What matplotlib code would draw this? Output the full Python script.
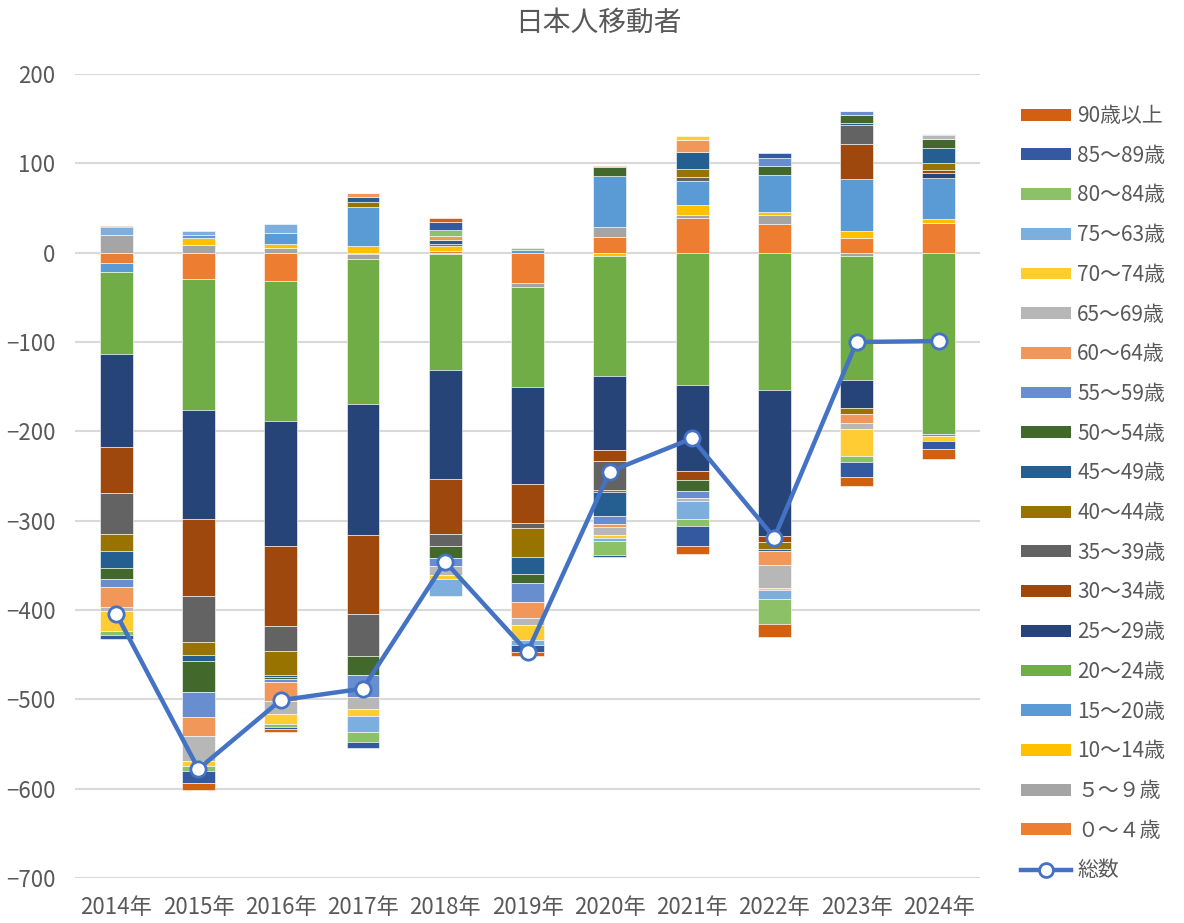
import matplotlib
matplotlib.use("Agg")
import matplotlib.pyplot as plt
import numpy as np
from matplotlib.patches import Patch
from matplotlib.lines import Line2D

plt.rcParams['font.family'] = ['Noto Sans CJK JP', 'DejaVu Sans']

years = ["2014年", "2015年", "2016年", "2017年", "2018年", "2019年",
         "2020年", "2021年", "2022年", "2023年", "2024年"]

labels = ["０～４歳", "５～９歳", "10～14歳", "15～20歳", "20～24歳", "25～29歳",
          "30～34歳", "35～39歳", "40～44歳", "45～49歳", "50～54歳", "55～59歳",
          "60～64歳", "65～69歳", "70～74歳", "75～63歳", "80～84歳", "85～89歳",
          "90歳以上"]

colors = ["#ED7D31", "#A5A5A5", "#FFC000", "#5B9BD5", "#70AD47", "#264478",
          "#9E480E", "#636363", "#997300", "#255E91", "#43682B", "#698ED0",
          "#F1975A", "#B7B7B7", "#FFCD33", "#7CAFDD", "#8CC168", "#335AA1",
          "#D26012"]

age_0_4   = [-12, -29, -32, -1, 1.5, -34, 18, 39, 31.7, 16.8, 32.8]
age_5_9   = [20, 9, 5, -6, -2, -4, 10.4, 3.4, 10.8, -3.7, 0]
age_10_14 = [0, 7, 4.5, 7, 5.6, 0, -4, 10.8, 2.6, 7.5, 4.9]
age_15_20 = [-10, 4, 12, 44, 0, 3, 57.5, 27, 41.8, 57.8, 46.3]
age_20_24 = [-91, -147, -156, -162, -129.5, -112, -134, -148.5, -154, -139, -203]
age_25_29 = [-104, -122, -140, -147, -122, -109, -83, -96, -163, -31.7, 4.9]
age_30_34 = [-52, -86, -90, -88, -61.6, -43.7, -12.7, -10.4, -7, 40, 3.4]
age_35_39 = [-46, -51.5, -28, -47.4, -13, -5, -32, 4.9, 0, 20.9, 0]
age_40_44 = [-19.5, -15, -27, 6, 2.5, -33, -2.6, 8.2, -8.2, -6.3, 7.8]
age_45_49 = [-18, -7, -1.5, 5.6, 4.2, -19.4, -27, 19.8, -2.2, 1.9, 16.8]
age_50_54 = [-13, -34, -2.6, -21, -14, -9.3, 10, -12, 10.4, 9, 10.8]
age_55_59 = [-9, -28, -3.7, -24.6, -8.6, -21.6, -8, -8.2, 9, 5.2, -2]
age_60_64 = [-22, -22, -21, 4, 5.2, -17.5, -3.7, 13, -15.3, -10.4, 0]
age_65_69 = [-5, -27, -15, -13.4, -10, -7.8, -8.6, -3, -25.7, -6.3, 3.7]
age_70_74 = [-22, -6, -10.4, -8.2, -5, -17.5, -3.7, 4.5, -2.2, -29.8, -5.5]
age_75_79 = [9, 4, 11, -18, -18.7, -5.6, -3.7, -19.7, -10.4, 0, 1.9]
age_80_84 = [-4.5, -6, -3.4, -11.2, 6, 2, -15, -8.2, -27.6, -7.5, 0]
age_85_89 = [-4, -13, -3, -6.3, 9, -7.5, -2.6, -22.4, 4.9, -16, -9]
age_90    = [1, -7.5, -2.6, 0, 4.5, -4.8, 1.5, -9.3, -15, -10, -12]

total = [-404, -578, -501, -488, -346, -447, -245, -208, -319, -100, -99]

series = [age_0_4, age_5_9, age_10_14, age_15_20, age_20_24, age_25_29,
          age_30_34, age_35_39, age_40_44, age_45_49, age_50_54, age_55_59,
          age_60_64, age_65_69, age_70_74, age_75_79, age_80_84, age_85_89,
          age_90]

W, H = 1184, 923
fig = plt.figure(figsize=(W / 100, H / 100), dpi=100)
ax = fig.add_axes([75 / W, 1 - 878 / H, (980 - 75) / W, (878 - 74) / H])

x = np.arange(len(years))
pos_bottom = np.zeros(len(years))
neg_bottom = np.zeros(len(years))
for vals, c in zip(series, colors):
    v = np.array(vals, dtype=float)
    bottoms = np.where(v >= 0, pos_bottom, neg_bottom)
    ax.bar(x, v, 0.4, bottom=bottoms, color=c, edgecolor='white',
           linewidth=0.4, zorder=2)
    pos_bottom = pos_bottom + np.where(v >= 0, v, 0)
    neg_bottom = neg_bottom + np.where(v < 0, v, 0)

ax.plot(x, total, color='#4472C4', linewidth=3.2, marker='o', markersize=11,
        markerfacecolor='white', markeredgecolor='#4472C4', markeredgewidth=2,
        zorder=4)

ax.set_xlim(-0.5, len(years) - 0.5)
ax.set_ylim(-700, 200)
ax.set_yticks(np.arange(-700, 201, 100))
ax.yaxis.grid(True, color='#D9D9D9', linewidth=1.5, zorder=0)
ax.set_axisbelow(True)
for s in ax.spines.values():
    s.set_visible(False)
ax.tick_params(axis='both', length=0, labelsize=16, colors='#595959')
ax.tick_params(axis='y', pad=14)
ax.tick_params(axis='x', pad=13)
ax.set_xticks(x)
ax.set_xticklabels(years)

fig.text(598 / W, 1 - 23 / H, "日本人移動者", ha='center', va='center',
         fontsize=20, color='#595959')

handles = [Patch(facecolor=c, edgecolor='none') for c in colors][::-1]
names = labels[::-1]
handles.append(Line2D([0], [0], color='#4472C4', linewidth=3.2, marker='o',
                      markersize=10, markerfacecolor='white',
                      markeredgecolor='#4472C4', markeredgewidth=2))
names.append("総数")
leg = fig.legend(handles, names, loc='upper left',
                 bbox_to_anchor=(1021 / W, 1 - 105 / H), frameon=False,
                 fontsize=15, handlelength=2.4, handleheight=0.5,
                 labelspacing=0.85, handletextpad=0.3, borderaxespad=0,
                 borderpad=0)
for t in leg.get_texts():
    t.set_color('#595959')

fig.savefig("out.png", dpi=100)
